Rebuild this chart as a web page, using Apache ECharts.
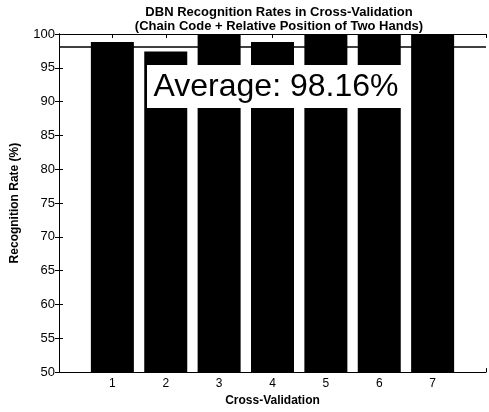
<!DOCTYPE html>
<html>
<head>
<meta charset="utf-8">
<script src="https://cdn.jsdelivr.net/npm/echarts@6/dist/echarts.min.js"></script>
<style>
  html, body { margin: 0; padding: 0; background: #fff; }
  #chart { width: 489px; height: 412px; }
</style>
</head>
<body>
<div id="chart"></div>
<script>
// data
const folds = [1, 2, 3, 4, 5, 6, 7];
const rates = [98.8, 97.4, 100, 98.8, 100, 100, 100];
const average = 98.16;
const yTicks = [50, 55, 60, 65, 70, 75, 80, 85, 90, 95, 100];

const chart = echarts.init(document.getElementById('chart'));
const font = 'Arial, "Liberation Sans", sans-serif';

const hiddenEnds = v => (v >= 1 && v <= 7 ? String(v) : '');

chart.setOption({
  animation: false,
  backgroundColor: '#fff',
  title: {
    text: 'DBN Recognition Rates in Cross-Validation\n(Chain Code + Relative Position of Two Hands)',
    left: 274,
    textAlign: 'center',
    top: 0,
    textStyle: { fontFamily: font, fontSize: 13, fontWeight: 'bold', color: '#000', lineHeight: 14 }
  },
  grid: { left: 59, right: 2, top: 34, bottom: 38 },
  xAxis: [{
    type: 'value', min: 0, max: 8, interval: 1,
    name: 'Cross-Validation', nameLocation: 'middle', nameGap: 22,
    nameTextStyle: { fontFamily: font, fontSize: 12, fontWeight: 'bold', color: '#000' },
    axisLine: { lineStyle: { color: '#000', width: 1 } },
    axisTick: { inside: true, length: 4, lineStyle: { color: '#000' } },
    axisLabel: { fontFamily: font, fontSize: 12, color: '#000', margin: 6, formatter: hiddenEnds },
    splitLine: { show: false }
  }, {
    type: 'value', position: 'top', min: 0, max: 8, interval: 1,
    axisLine: { lineStyle: { color: '#000', width: 1 } },
    axisTick: { inside: true, length: 4, lineStyle: { color: '#000' } },
    axisLabel: { show: false },
    splitLine: { show: false }
  }],
  yAxis: [{
    type: 'value', min: yTicks[0], max: yTicks[yTicks.length - 1], interval: 5,
    name: 'Recognition Rate (%)', nameLocation: 'middle', nameGap: 38, nameRotate: 90,
    nameTextStyle: { fontFamily: font, fontSize: 12, fontWeight: 'bold', color: '#000' },
    axisLine: { show: true, lineStyle: { color: '#000', width: 1 } },
    axisTick: { show: true, inside: true, length: 4, lineStyle: { color: '#000' } },
    axisLabel: { fontFamily: font, fontSize: 13, color: '#000', margin: 4 },
    splitLine: { show: false }
  }, {
    type: 'value', position: 'right', min: 50, max: 100, interval: 5,
    axisLine: { show: true, lineStyle: { color: '#000', width: 1 } },
    axisTick: { show: true, inside: true, length: 4, lineStyle: { color: '#000' } },
    axisLabel: { show: false },
    splitLine: { show: false }
  }],
  series: [{
    type: 'bar',
    barWidth: 43,
    itemStyle: { color: '#000' },
    data: folds.map((f, i) => [f, rates[i]]),
    markLine: {
      silent: true,
      symbol: 'none',
      label: { show: false },
      lineStyle: { color: '#000', type: 'solid', width: 1.5 },
      data: [{ yAxis: average }]
    }
  }],
  graphic: [{
    type: 'rect',
    shape: { x: 147, y: 65, width: 258, height: 43 },
    style: { fill: '#fff' },
    z: 100
  }, {
    type: 'text',
    x: 276, y: 87,
    style: {
      text: 'Average: ' + average.toFixed(2) + '%',
      fontFamily: font, fontSize: 32, fill: '#000',
      align: 'center', verticalAlign: 'middle'
    },
    z: 101
  }]
});
</script>
</body>
</html>
